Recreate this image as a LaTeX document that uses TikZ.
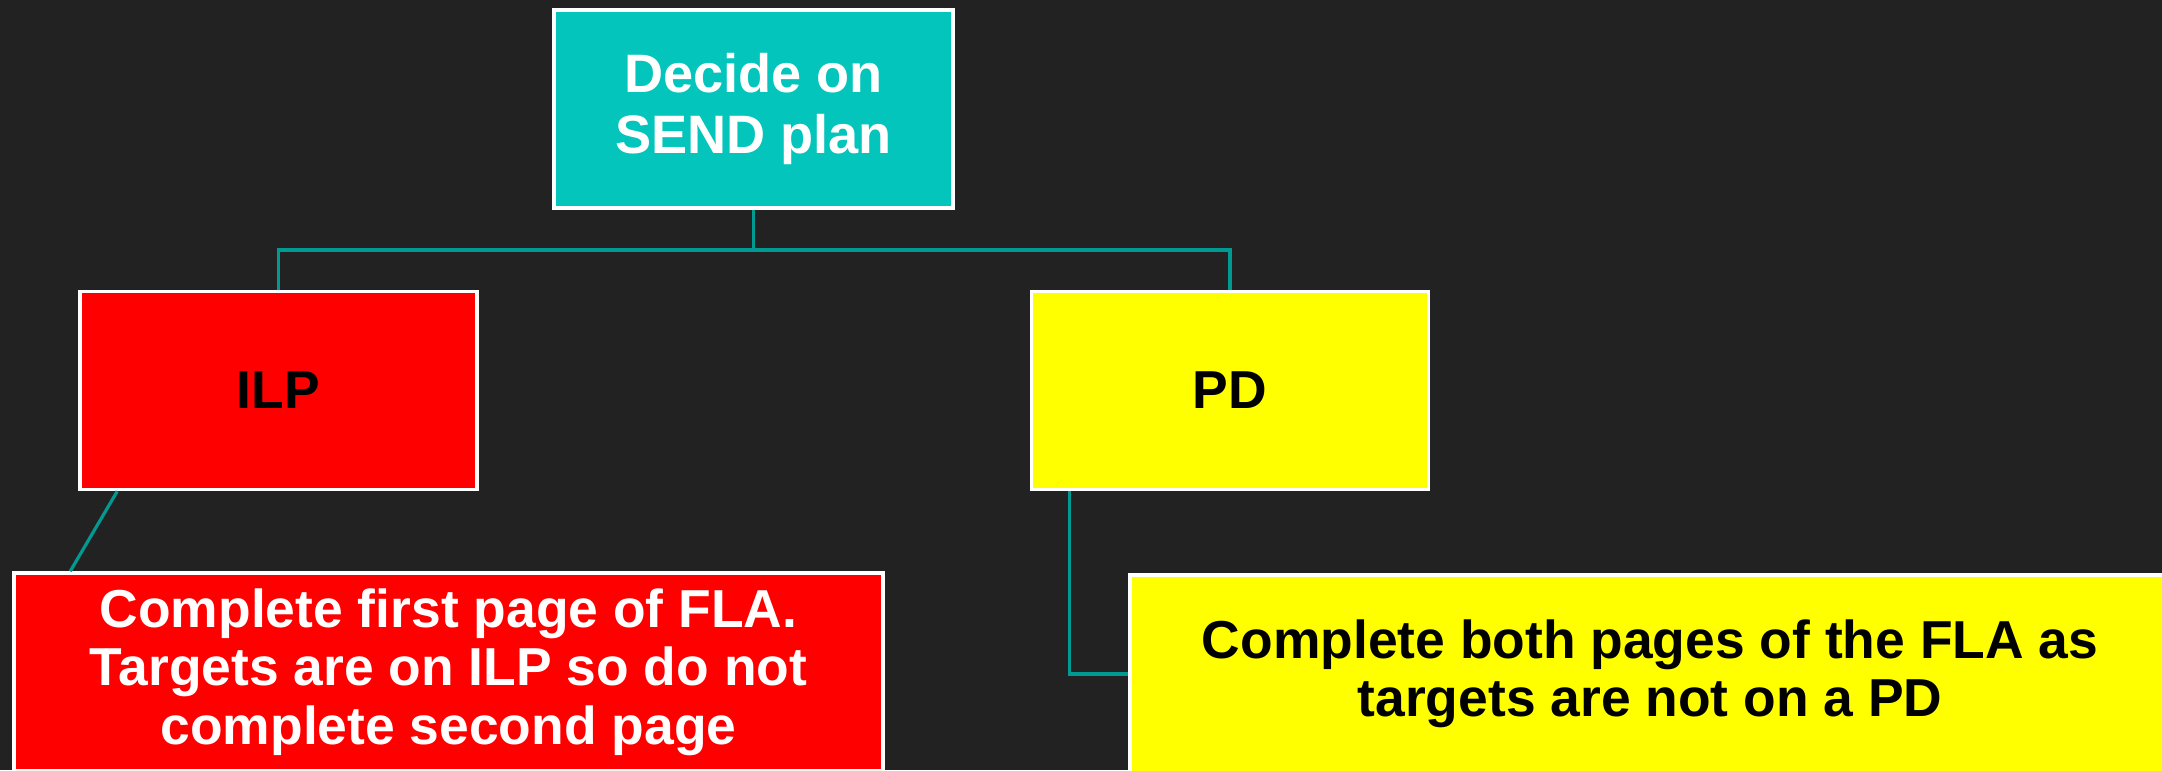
\documentclass[tikz,border=0pt]{standalone}
\usepackage{fontspec}
\setmainfont{Liberation Sans}
\usetikzlibrary{positioning}
\definecolor{bgdark}{HTML}{222222}
\definecolor{sendteal}{HTML}{03C5BC}
\definecolor{linkteal}{HTML}{009A92}
\definecolor{pdyellow}{HTML}{FFFF00}
\definecolor{ilpred}{HTML}{FF0000}

\begin{document}
\begin{tikzpicture}[box/.style={draw=white,line width=1pt,fill=#1,
   minimum width=3.97cm,minimum height=1.98cm,
   align=center,inner sep=2pt,
   font=\bfseries\fontsize{15.2}{16.6}\selectfont},
  box/.default=ilpred,
  link/.style={draw=linkteal,line width=0.9pt}]

 \fill[bgdark] (0,0) rectangle (21.62,-7.70);
 \useasboundingbox (0,0) rectangle (21.62,-7.70);

 \node[box=sendteal,text=white,minimum width=3.99cm,
   font=\bfseries\fontsize{15.4}{17.1}\selectfont] (send) at (7.535,-1.09) {Decide on\\SEND plan};
 \node[box] (ilp) at (2.785,-3.905) {ILP};
 \node[box=pdyellow] (pd) at (12.30,-3.905) {PD};
 \node[box,text=white,minimum width=8.69cm] (ilpnote) at (4.485,-6.72)
   {Complete first page of FLA.\\Targets are on ILP so do not\\complete second page};
 \node[box=pdyellow,minimum width=10.4cm] (pdnote) at (16.50,-6.74)
   {Complete both pages of the FLA as\\targets are not on a PD};

 \coordinate (split) at (7.535,-2.50);
 \draw[link] (send) -- (split) -| (ilp);
 \draw[link] (split) -| (pd);
 \draw[link] ([xshift=0.39cm]ilp.south west) -- ([xshift=0.58cm]ilpnote.north west);
 \draw[link] ([xshift=0.40cm]pd.south west) |- (pdnote);

\end{tikzpicture}
\end{document}
